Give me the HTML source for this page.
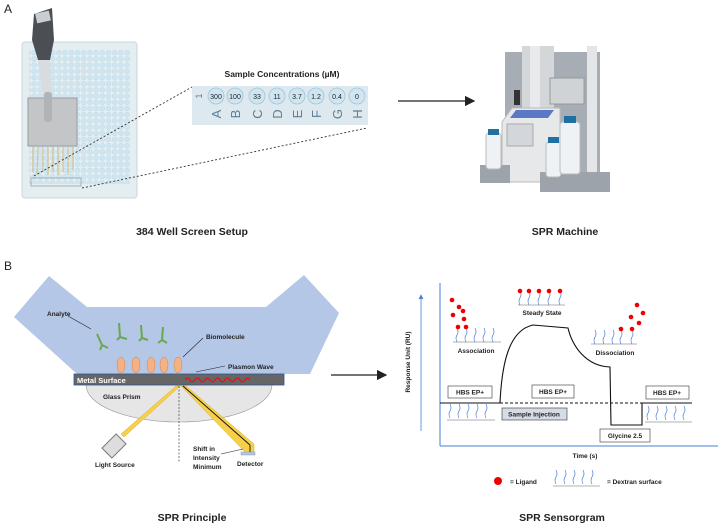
<!DOCTYPE html>
<html><head><meta charset="utf-8"><style>
html,body{margin:0;padding:0;background:#fff;}
svg{display:block;font-family:"Liberation Sans",sans-serif;}
</style></head><body>
<svg width="719" height="528" viewBox="0 0 719 528" xmlns="http://www.w3.org/2000/svg">
<defs>
<marker id="ah" markerWidth="8" markerHeight="8" refX="7" refY="4" orient="auto"><path d="M0,0 L8,4 L0,8 Z" fill="#222"/></marker>
<marker id="ahb" markerWidth="6" markerHeight="6" refX="5" refY="3" orient="auto"><path d="M0,0 L6,3 L0,6 Z" fill="#4a7fd4"/></marker>
<pattern id="wells" width="6.2" height="6.2" patternUnits="userSpaceOnUse"><circle cx="3.1" cy="3.1" r="2.4" fill="#cfe6f2" stroke="#a9cfe2" stroke-width="0.4"/></pattern>
</defs>
<text x="4" y="13" font-size="12" fill="#222">A</text>
<rect x="22" y="42" width="115" height="156" rx="3" fill="#e4eef1" stroke="#c6d8df"/>
<rect x="29" y="50" width="101" height="134" fill="url(#wells)"/>
<rect x="31" y="178" width="50" height="8" fill="none" stroke="#888" stroke-width="0.6"/>
<path d="M34 14 L52 8 L54 40 L50 60 L38 60 L32 40 Z" fill="#4b4f55"/>
<rect x="36" y="12" width="14" height="10" fill="#c9ced3" transform="rotate(-12 43 17)"/>
<path d="M38 60 L50 60 L52 100 L44 102 Z" fill="#d9dcdf"/>
<rect x="28" y="98" width="49" height="48" fill="#c3c5c7" stroke="#9a9c9e"/>
<rect x="44" y="92" width="8" height="30" rx="3" fill="#b1b3b5"/>
<g stroke="#d8c08c" stroke-width="1.2">
<line x1="33" y1="147" x2="33" y2="172"/><line x1="38" y1="147" x2="37" y2="175"/><line x1="43" y1="147" x2="43" y2="172"/><line x1="48" y1="147" x2="48" y2="175"/><line x1="53" y1="147" x2="53" y2="172"/><line x1="58" y1="147" x2="58" y2="175"/><line x1="63" y1="147" x2="63" y2="172"/><line x1="68" y1="147" x2="68" y2="175"/><line x1="73" y1="147" x2="73" y2="170"/>
</g>
<line x1="34" y1="176" x2="192" y2="87" stroke="#333" stroke-dasharray="2,2" stroke-width="0.9"/>
<line x1="82" y1="188" x2="367" y2="128" stroke="#333" stroke-dasharray="2,2" stroke-width="0.9"/>
<text x="282" y="77" font-size="8.5" font-weight="bold" text-anchor="middle" fill="#222">Sample Concentrations (µM)</text>
<rect x="192" y="86" width="176" height="39" fill="#dde9ef"/>
<text x="199" y="99" font-size="9" fill="#5a7f95" transform="rotate(-90 199 96)" text-anchor="middle">1</text>
<g fill="#cfe6f2" stroke="#9fc4d8" stroke-width="0.8">
<circle cx="216" cy="96" r="8"/><circle cx="235" cy="96" r="8"/><circle cx="257" cy="96" r="8"/><circle cx="277" cy="96" r="8"/><circle cx="297" cy="96" r="8"/><circle cx="316" cy="96" r="8"/><circle cx="337" cy="96" r="8"/><circle cx="357" cy="96" r="8"/>
</g>
<g font-size="7" text-anchor="middle" fill="#222">
<text x="216" y="99">300</text><text x="235" y="99">100</text><text x="257" y="99">33</text><text x="277" y="99">11</text><text x="297" y="99">3.7</text><text x="316" y="99">1.2</text><text x="337" y="99">0.4</text><text x="357" y="99">0</text>
</g>
<g font-size="13" fill="#5a7f95" text-anchor="middle">
<text transform="translate(221 114) rotate(-90)">A</text><text transform="translate(240 114) rotate(-90)">B</text><text transform="translate(262 114) rotate(-90)">C</text><text transform="translate(282 114) rotate(-90)">D</text><text transform="translate(302 114) rotate(-90)">E</text><text transform="translate(321 114) rotate(-90)">F</text><text transform="translate(342 114) rotate(-90)">G</text><text transform="translate(362 114) rotate(-90)">H</text>
</g>
<text x="192" y="235" font-size="10.5" font-weight="bold" text-anchor="middle" fill="#222">384 Well Screen Setup</text>
<line x1="398" y1="101" x2="474" y2="101" stroke="#222" stroke-width="1.3" marker-end="url(#ah)"/>
<rect x="505" y="52" width="95" height="120" fill="#a7adb4"/>
<rect x="522" y="46" width="32" height="100" fill="#d4d7da"/>
<rect x="530" y="46" width="10" height="100" fill="#e8eaec"/>
<rect x="587" y="46" width="10" height="126" fill="#e3e5e7"/>
<rect x="550" y="78" width="34" height="26" fill="#d0d3d6" stroke="#999"/>
<rect x="514" y="90" width="6" height="15" fill="#333"/>
<path d="M502 122 L512 108 L560 108 L560 182 L502 182 Z" fill="#e6e8ea" stroke="#bbb"/>
<path d="M510 118 L516 110 L554 110 L548 118 Z" fill="#5a78c4"/>
<rect x="507" y="124" width="26" height="22" fill="#d3d7db" stroke="#aaa"/>
<rect x="480" y="165" width="30" height="18" fill="#9da3aa"/>
<rect x="540" y="172" width="70" height="20" fill="#9da3aa"/>
<rect x="486" y="133" width="15" height="36" rx="3" fill="#eef2f5" stroke="#bbb"/>
<rect x="488" y="129" width="11" height="6" fill="#1f6fa3"/>
<rect x="546" y="142" width="15" height="35" rx="3" fill="#eef2f5" stroke="#bbb"/>
<rect x="548" y="137" width="11" height="6" fill="#1f6fa3"/>
<rect x="560" y="122" width="20" height="52" rx="3" fill="#eef2f5" stroke="#bbb"/>
<rect x="564" y="116" width="12" height="7" fill="#1f6fa3"/>
<text x="565" y="235" font-size="10.5" font-weight="bold" text-anchor="middle" fill="#222">SPR Machine</text>

<text x="4" y="270" font-size="12" fill="#222">B</text>
<polygon points="14,317 49,276 87,307 266,307 304,275 339,313 310,374 77,374" fill="#b4c7e7"/>
<path d="M86 385 A93 37 0 0 0 272 385 Z" fill="#e6e6e6" stroke="#999" stroke-width="0.6"/>
<rect x="74" y="374" width="210" height="11" fill="#666" stroke="#2f5597" stroke-width="0.8"/>
<text x="77" y="383" font-size="7.5" font-weight="bold" fill="#fff">Metal Surface</text>
<path d="M185 380 q2.5 -4 5 0 t5 0 t5 0 t5 0 t5 0 t5 0 t5 0 t5 0 t5 0 t5 0 t5 0 t5 0 t5 0" fill="none" stroke="#e00" stroke-width="0.8"/>
<g fill="#f4b183" stroke="#c9855a" stroke-width="0.5">
<ellipse cx="121" cy="365" rx="4" ry="8"/><ellipse cx="136" cy="365" rx="4" ry="8"/><ellipse cx="151" cy="365" rx="4" ry="8"/><ellipse cx="164" cy="365" rx="4" ry="8"/><ellipse cx="178" cy="365" rx="4" ry="8"/>
</g>
<g stroke="#6aa84f" stroke-width="2" fill="none">
<path d="M97 334 L102 345 L100 350 M102 345 L108 348"/>
<path d="M119 323 L120 337 L117 340 M120 337 L127 339"/>
<path d="M141 325 L142 338 L139 341 M142 338 L148 340"/>
<path d="M163 327 L162 340 L158 343 M162 340 L167 343"/>
</g>
<text x="47" y="316" font-size="6.5" font-weight="bold" fill="#222">Analyte</text>
<line x1="68" y1="316" x2="91" y2="329" stroke="#222" stroke-width="0.6"/>
<text x="206" y="339" font-size="6.5" font-weight="bold" fill="#222">Biomolecule</text>
<line x1="203" y1="338" x2="183" y2="357" stroke="#222" stroke-width="0.6"/>
<text x="228" y="369" font-size="6.5" font-weight="bold" fill="#222">Plasmon Wave</text>
<line x1="225" y1="366" x2="196" y2="372" stroke="#222" stroke-width="0.6"/>
<text x="103" y="399" font-size="6.5" font-weight="bold" fill="#222">Glass Prism</text>
<polygon points="176,386 180,386 124,437 121,434" fill="#f7d04a" stroke="#c9a227" stroke-width="0.4"/>
<rect x="107" y="436" width="14" height="20" fill="#ddd" stroke="#777" transform="rotate(45 114 446)"/>
<text x="95" y="467" font-size="6.5" font-weight="bold" fill="#222">Light Source</text>
<line x1="179" y1="386" x2="179" y2="462" stroke="#222" stroke-dasharray="2,1.5" stroke-width="0.6"/>
<polygon points="181,386 186,386 254,444 254,453 246,453" fill="#f7d04a" stroke="#c9a227" stroke-width="0.4"/>
<line x1="183" y1="386" x2="250" y2="445" stroke="#111" stroke-width="0.9"/>
<line x1="250" y1="445" x2="250" y2="453" stroke="#111" stroke-width="0.9"/>
<rect x="241" y="452" width="14" height="3" fill="#b4c7e7" stroke="#888" stroke-width="0.4"/>
<text x="237" y="466" font-size="6.5" font-weight="bold" fill="#222">Detector</text>
<g font-size="6.5" font-weight="bold" fill="#222"><text x="193" y="451">Shift in</text><text x="193" y="460">Intensity</text><text x="193" y="469">Minimum</text></g>
<line x1="221" y1="454" x2="243" y2="449" stroke="#222" stroke-width="0.6"/>
<text x="192" y="521" font-size="10.5" font-weight="bold" text-anchor="middle" fill="#222">SPR Principle</text>
<line x1="331" y1="375" x2="386" y2="375" stroke="#222" stroke-width="1.3" marker-end="url(#ah)"/>

<line x1="440" y1="283" x2="440" y2="446" stroke="#4a7fd4" stroke-width="1"/>
<line x1="440" y1="446" x2="718" y2="446" stroke="#4a7fd4" stroke-width="1"/>
<line x1="421" y1="431" x2="421" y2="295" stroke="#4a7fd4" stroke-width="0.8" marker-end="url(#ahb)"/>
<text transform="translate(410 362) rotate(-90)" font-size="6.5" font-weight="bold" text-anchor="middle" fill="#222">Response Unit (RU)</text>
<line x1="440" y1="403" x2="500" y2="403" stroke="#111" stroke-width="1"/>
<line x1="500" y1="403" x2="642" y2="403" stroke="#111" stroke-width="1" stroke-dasharray="3,2"/>
<line x1="642" y1="403" x2="692" y2="403" stroke="#111" stroke-width="1"/>
<path d="M500 403 C502 360 510 330 533 325 L568 328 C572 345 585 366 610 367 L611 425 L642 425 L642 403" fill="none" stroke="#111" stroke-width="1.1"/>
<g font-size="6.5" font-weight="bold" fill="#222" text-anchor="middle">
<rect x="448" y="386" width="44" height="12" fill="#fff" stroke="#333" stroke-width="0.6"/><text x="470" y="394.5">HBS EP+</text>
<rect x="532" y="385" width="42" height="13" fill="#fff" stroke="#333" stroke-width="0.6"/><text x="553" y="394">HBS EP+</text>
<rect x="646" y="386" width="43" height="13" fill="#fff" stroke="#333" stroke-width="0.6"/><text x="667" y="395">HBS EP+</text>
<rect x="502" y="408" width="65" height="12" fill="#d6dce5" stroke="#333" stroke-width="0.6"/><text x="534" y="416.5">Sample Injection</text>
<rect x="600" y="429" width="50" height="13" fill="#fff" stroke="#333" stroke-width="0.6"/><text x="625" y="438">Glycine 2.5</text>
<text x="476" y="353">Association</text><text x="542" y="315">Steady State</text><text x="615" y="355">Dissociation</text>
<text x="585" y="458">Time (s)</text>
</g>
<g stroke="#999" stroke-width="0.8">
<line x1="453" y1="342" x2="501" y2="342"/><line x1="518" y1="305" x2="565" y2="305"/><line x1="591" y1="344" x2="637" y2="344"/><line x1="447" y1="420" x2="495" y2="420"/><line x1="645" y1="422" x2="692" y2="422"/><line x1="553" y1="486" x2="600" y2="486"/>
</g>
<g stroke="#4a7fd4" stroke-width="0.7" fill="none">
<path d="M457 342 q-2 -4 0 -7 t0 -7 M466 342 q-2 -4 0 -7 t0 -7 M475 342 q-2 -4 0 -7 t0 -7 M484 342 q-2 -4 0 -7 t0 -7 M493 342 q-2 -4 0 -7 t0 -7"/>
<path d="M520 305 q-2 -4 0 -7 t0 -7 M529 305 q-2 -4 0 -7 t0 -7 M539 305 q-2 -4 0 -7 t0 -7 M549 305 q-2 -4 0 -7 t0 -7 M560 305 q-2 -4 0 -7 t0 -7"/>
<path d="M595 344 q-2 -4 0 -7 t0 -7 M604 344 q-2 -4 0 -7 t0 -7 M613 344 q-2 -4 0 -7 t0 -7 M621 344 q-2 -4 0 -7 t0 -7 M632 344 q-2 -4 0 -7 t0 -7"/>
<path d="M450 418 q-2 -4 0 -7 t0 -7 M459 418 q-2 -4 0 -7 t0 -7 M468 418 q-2 -4 0 -7 t0 -7 M477 418 q-2 -4 0 -7 t0 -7 M486 418 q-2 -4 0 -7 t0 -7"/>
<path d="M648 420 q-2 -4 0 -7 t0 -7 M657 420 q-2 -4 0 -7 t0 -7 M666 420 q-2 -4 0 -7 t0 -7 M675 420 q-2 -4 0 -7 t0 -7 M684 420 q-2 -4 0 -7 t0 -7"/>
<path d="M556 484 q-2 -4 0 -7 t0 -7 M565 484 q-2 -4 0 -7 t0 -7 M574 484 q-2 -4 0 -7 t0 -7 M583 484 q-2 -4 0 -7 t0 -7 M592 484 q-2 -4 0 -7 t0 -7"/>
</g>
<g fill="#e00">
<circle cx="452" cy="300" r="2.3"/><circle cx="459" cy="307" r="2.3"/><circle cx="463" cy="311" r="2.3"/><circle cx="453" cy="315" r="2.3"/><circle cx="464" cy="319" r="2.3"/><circle cx="458" cy="327" r="2.3"/><circle cx="466" cy="327" r="2.3"/>
<circle cx="520" cy="291" r="2.3"/><circle cx="529" cy="291" r="2.3"/><circle cx="539" cy="291" r="2.3"/><circle cx="549" cy="291" r="2.3"/><circle cx="560" cy="291" r="2.3"/>
<circle cx="637" cy="305" r="2.3"/><circle cx="643" cy="313" r="2.3"/><circle cx="631" cy="317" r="2.3"/><circle cx="639" cy="323" r="2.3"/><circle cx="621" cy="329" r="2.3"/><circle cx="632" cy="329" r="2.3"/>
<circle cx="498" cy="481" r="4"/>
</g>
<text x="510" y="484" font-size="6.5" font-weight="bold" fill="#222">= Ligand</text>
<text x="607" y="484" font-size="6.5" font-weight="bold" fill="#222">= Dextran surface</text>
<text x="562" y="521" font-size="10.5" font-weight="bold" text-anchor="middle" fill="#222">SPR Sensorgram</text>
</svg>
</body></html>
